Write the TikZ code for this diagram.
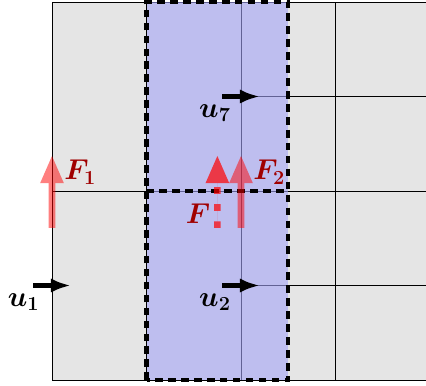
\documentclass[tikz,border=0pt]{standalone}
\usepackage{tikz}
\usetikzlibrary{
    positioning, % relative placement
    arrows.meta  % arrow tips
}

\definecolor{blockblue}{RGB}{164,164,247}
\definecolor{forcered}{RGB}{160,0,0}

\begin{document}
\begin{tikzpicture}[
    gridline/.style={
        draw=black,
        line width=0.5pt
    },
    block/.style={
        fill=blockblue,
        fill opacity=0.6
    },
    blockedge/.style={
        draw=black,
        line width=2.6pt,
        dash pattern=on 4.6pt off 3.2pt
    },
    uarrow/.style={
        -{Latex[length=12pt,width=8.5pt]},
        line width=2.8pt,
        draw=black
    },
    force/.style={
        -{Triangle[length=17pt,width=13pt]},
        line width=4pt,
        draw=red,
        fill=red
    },
    ulabel/.style={
        font=\LARGE\boldmath
    },
    flabel/.style={
        font=\LARGE\boldmath,
        text=forcered
    }
]

% Frame of the picture
\clip (-1.1005,-0.106) rectangle (7.915,8.042);
\useasboundingbox (-1.1005,-0.106) rectangle (7.915,8.042);

% Cells
\fill[black!10] (0,0) rectangle (9,8);

% Coarse cells on the left, fine cells on the right
\draw[gridline] (0,0) rectangle (9,8);
\draw[gridline] (0,4) -- (9,4);
\draw[gridline] (2,0) -- (2,8);
\draw[gridline] (4,0) -- (4,8);
\draw[gridline] (6,0) -- (6,8);
\draw[gridline] (4,2) -- (9,2);
\draw[gridline] (4,6) -- (9,6);

% Control volume
\fill[block] (2,0) rectangle (5,8);
\draw[blockedge] (2,0) rectangle (5,8);
\draw[blockedge] (2,4) -- (5,4);

% Face velocities
\coordinate (u1s) at (-0.4,2);
\coordinate (u1e) at (0.4,2);
\coordinate (u2s) at (3.6,2);
\coordinate (u2e) at (4.4,2);
\coordinate (u7s) at (3.6,6);
\coordinate (u7e) at (4.4,6);

\draw[uarrow] (u1s) -- (u1e);
\draw[uarrow] (u2s) -- (u2e);
\draw[uarrow] (u7s) -- (u7e);

\node[ulabel] (u1) at (-0.6,1.65) {$u_1$};
\node[ulabel] (u2) at (3.45,1.65) {$u_2$};
\node[ulabel] (u7) at (3.45,5.65) {$u_7$};

% Forces
\coordinate (F1s) at (0,3.217);
\coordinate (F1e) at (0,4.762);
\coordinate (F2s) at (4,3.217);
\coordinate (F2e) at (4,4.762);
\coordinate (Fs) at (3.5,3.217);
\coordinate (Fe) at (3.5,4.762);

\begin{scope}[transparency group, opacity=0.5]
\draw[force] (F1s) -- (F1e);
\end{scope}
\begin{scope}[transparency group, opacity=0.5]
\draw[force] (F2s) -- (F2e);
\end{scope}
\begin{scope}[transparency group, opacity=0.7]
\draw[force, dash pattern=on 4pt off 6.3pt] (Fs) -- (Fe);
\end{scope}

\node[flabel] (F1) at (0.6,4.40) {$F_1$};
\node[flabel] (F2) at (4.6,4.40) {$F_2$};
\node[flabel] (F) at (3.09,3.53) {$F$};

\end{tikzpicture}
\end{document}
